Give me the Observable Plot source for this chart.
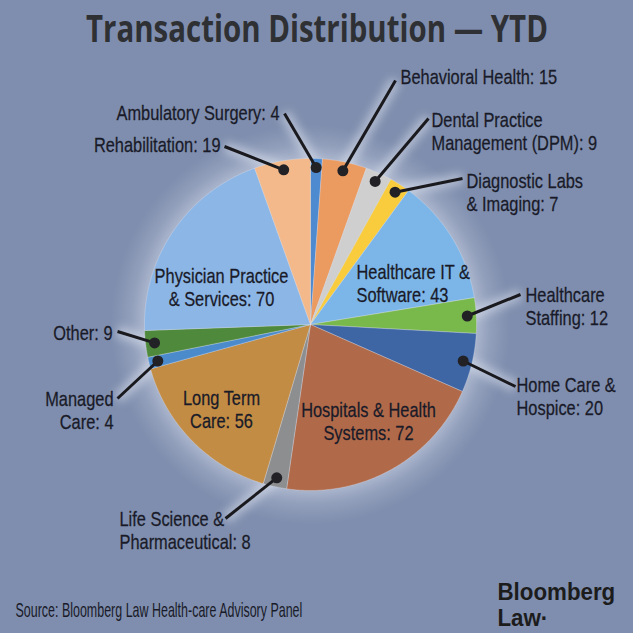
<!DOCTYPE html>
<html><head><meta charset="utf-8">
<script src="https://cdn.jsdelivr.net/npm/d3@7"></script>
<script src="https://cdn.jsdelivr.net/npm/@observablehq/plot@0.6"></script>
<style>
html,body{margin:0;padding:0;background:#7f8eae;}
#chart svg{display:block}
</style></head><body><div id="chart"></div>
<script>
// ---- data ----
const categories = ["Ambulatory Surgery","Behavioral Health","Dental Practice Management (DPM)","Diagnostic Labs & Imaging","Healthcare IT & Software","Healthcare Staffing","Home Care & Hospice","Hospitals & Health Systems","Life Science & Pharmaceutical","Long Term Care","Managed Care","Other","Physician Practice & Services","Rehabilitation"];
const values = [4,15,9,7,43,12,20,72,8,56,4,9,70,19];
const labelNames = ["Ambulatory Surgery","Behavioral Health","Dental Practice\nManagement (DPM)","Diagnostic Labs\n& Imaging","Healthcare IT &\nSoftware","Healthcare\nStaffing","Home Care &\nHospice","Hospitals & Health\nSystems","Life Science &\nPharmaceutical","Long Term\nCare","Managed\nCare","Other","Physician Practice\n& Services","Rehabilitation"];
const sliceColors = ["#4d8ad0","#eb9a60","#cfcfcf","#f8cc3c","#7cb6e8","#79b94c","#3f66a4","#b06a4a","#8c8e90","#c28c44","#4b8bcc","#4f8a3c","#8cb6e6","#f3b98a"];
const titleText = "Transaction Distribution \u2014 YTD";
const sourceText = "Source: Bloomberg Law Health-care Advisory Panel";
const logoText = "Bloomberg\nLaw\u00b7";

// ---- layout (pixels) ----
const W = 633, H = 633, CX = 310, CY = 324, R = 166, RDOT = 157;
// [labelX, labelY, anchor, lineEndX, lineEndY]
const labelLayout = [
  [279,112.5,"end",284,113],
  [400,76,"start",395,80],
  [431,130.5,"start",428,118],
  [466,191.5,"start",462,178],
  [356,283,"start",null,null],
  [525,306,"start",520,294],
  [516,396,"start",515,386],
  [368,421,"middle",null,null],
  [119,530,"start",225,518],
  [221,409,"middle",null,null],
  [113,410,"end",117,398],
  [112,332,"end",117,331],
  [221,287,"middle",null,null],
  [220,144.5,"end",224,146]
];

const arcs = d3.pie().sort(null).startAngle(0).endAngle(2*Math.PI)(values);
const slicePts = [];
arcs.forEach((a, i) => {
  slicePts.push({name: categories[i], color: sliceColors[i], x: CX, y: CY});
  const n = Math.max(2, Math.ceil((a.endAngle - a.startAngle) / 0.01));
  for (let k = 0; k <= n; k++) {
    const t = a.startAngle + (a.endAngle - a.startAngle) * k / n;
    slicePts.push({name: categories[i], color: sliceColors[i], x: CX + R*Math.sin(t), y: CY - R*Math.cos(t)});
  }
  slicePts.push({name: categories[i], color: sliceColors[i], x: CX, y: CY});
});
const labels = arcs.map((a, i) => {
  const m = (a.startAngle + a.endAngle) / 2;
  const L = labelLayout[i];
  return {
    text: labelNames[i] + ": " + values[i],
    lx: L[0], ly: L[1], anchor: L[2], ex: L[3], ey: L[4],
    dx: CX + RDOT*Math.sin(m), dy: CY - RDOT*Math.cos(m)
  };
});
const leaders = labels.filter(d => d.ex != null);
const font = "'Liberation Sans',Arial,sans-serif";
const txtColor = "#191a28";

const textMark = (anchor) => Plot.text(labels.filter(d => d.anchor === anchor), {
  x: "lx", y: "ly", text: "text", textAnchor: anchor, lineAnchor: "middle",
  lineHeight: 1.15, fontSize: 20, fontFamily: font, fill: txtColor,
  stroke: txtColor, strokeWidth: 0.25
});

const chart = Plot.plot({
  width: W, height: H, margin: 0,
  x: {domain: [0, W], range: [0, W], axis: null},
  y: {domain: [0, H], range: [0, H], axis: null},
  color: {type: "identity"},
  style: {background: "#7f8eae", fontFamily: font},
  marks: [
    Plot.dot([{x: CX, y: CY}], {x: "x", y: "y", r: 200, fill: "url(#halo)", stroke: "none"}),
    Plot.link(leaders, {x1: "dx", y1: "dy", x2: "ex", y2: "ey", stroke: "#e8edf7", strokeWidth: 12, strokeOpacity: 0.45}),
    Plot.line(slicePts, {x: "x", y: "y", z: "name", fill: "color", stroke: "#e4e8f0", strokeWidth: 0.6, strokeOpacity: 0.5, curve: "linear"}),
    Plot.link(leaders, {x1: "dx", y1: "dy", x2: "ex", y2: "ey", stroke: "#1a1a1e", strokeWidth: 3}),
    Plot.dot(leaders, {x: "dx", y: "dy", r: 5.5, fill: "#222226", stroke: "none"}),
    textMark("start"), textMark("end"), textMark("middle"),
    Plot.text([titleText], {frameAnchor: "top", dy: 29, lineAnchor: "middle", fontSize: 38, fontWeight: "bold", fontFamily: "'Open Sans',sans-serif", fill: "#2e3034"}),
    Plot.text([sourceText], {frameAnchor: "bottom-left", dx: 15, dy: -23, textAnchor: "start", lineAnchor: "middle", fontSize: 20, fontFamily: font, fill: txtColor}),
    Plot.text([logoText], {frameAnchor: "bottom-left", dx: 497, dy: -8, textAnchor: "start", lineAnchor: "bottom", lineHeight: 1.05, fontSize: 24, fontWeight: "bold", fontFamily: font, fill: "#1c1c1c"})
  ]
});

document.getElementById("chart").appendChild(chart);
const svg = d3.select(chart);
const defs = svg.insert("defs", ":first-child");
const g = defs.append("radialGradient").attr("id", "halo");
g.append("stop").attr("offset", "0.8").attr("stop-color", "#e2e7f3").attr("stop-opacity", 0.55);
g.append("stop").attr("offset", "0.9").attr("stop-color", "#d4dbeb").attr("stop-opacity", 0.22);
g.append("stop").attr("offset", "1").attr("stop-color", "#c8d0e4").attr("stop-opacity", 0);
const f = defs.append("filter").attr("id", "blur").attr("x", "-50%").attr("y", "-50%").attr("width", "200%").attr("height", "200%");
f.append("feGaussianBlur").attr("stdDeviation", 4);
svg.selectAll('g[aria-label="link"]').filter((d, i) => i === 0).attr("filter", "url(#blur)");

const textGroups = svg.selectAll('g[aria-label="text"]').nodes();
const condense = (node, s) => d3.select(node).selectAll("text").each(function() {
  const t = this.getAttribute("transform") || "";
  this.setAttribute("transform", t + ` scale(${s},1)`);
});
[0, 1, 2].forEach(i => condense(textGroups[i], 0.82));
condense(textGroups[5], 0.93);
const fit = (node, w) => d3.select(node).selectAll("text").each(function() {
  const cur = this.getComputedTextLength();
  const t = this.getAttribute("transform") || "";
  this.setAttribute("transform", t + ` scale(${w / cur},1)`);
});
fit(textGroups[3], 462);
fit(textGroups[4], 287);
</script>
</body></html>
